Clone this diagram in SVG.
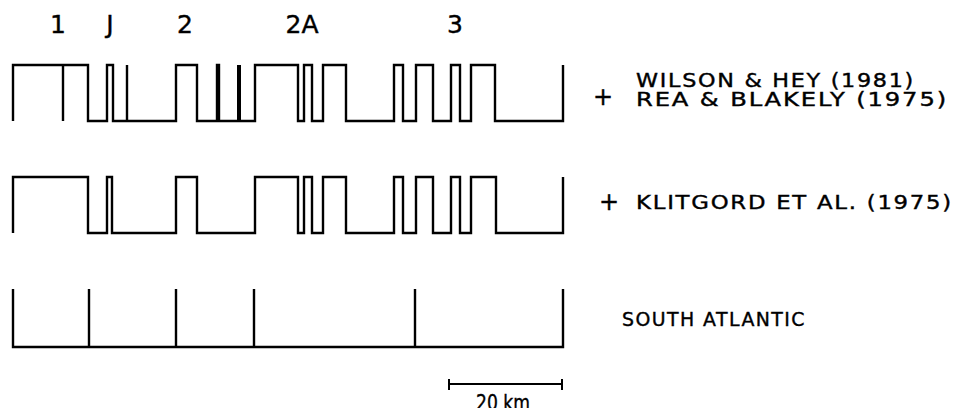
<svg xmlns="http://www.w3.org/2000/svg" width="956" height="408" viewBox="0 0 956 408">
<style>
.w{fill:none;stroke:#000;stroke-width:2.4;stroke-linejoin:miter;stroke-linecap:butt}
.t{font-family:"DejaVu Sans","Liberation Sans",sans-serif;fill:#000;stroke:#000;stroke-width:0.4}
.lab{font-size:25px;text-anchor:middle}
.src{font-size:19.5px;letter-spacing:1.5px}
.pl{font-size:24px;text-anchor:middle}
</style>
<rect width="956" height="408" fill="#fff"/>
<g id="labels">
<text class="t lab" x="58" y="33">1</text>
<text class="t lab" x="110" y="33">J</text>
<text class="t lab" x="185" y="33">2</text>
<text class="t lab" x="302" y="33">2A</text>
<text class="t lab" x="455" y="33">3</text>
</g>
<g id="row1">
<path class="w" d="M13,121 V65 H88 V121 H107 V65 H113 V121 H176 V65 H197 V121 H217 V65 H219 V121 H255 V65 H298 V121 H304 V65 H312 V121 H323 V65 H346 V121 H394 V65 H403 V121 H416 V65 H433 V121 H451 V65 H460 V121 H471 V65 H495 V121 H563 V65"/>
<path class="w" d="M63,65 V121 M127,65 V121"/>
<path class="w" d="M239,65 V121" style="stroke-width:4"/>
<text class="t pl" x="603" y="105">+</text>
<text class="t src" x="636" y="87" textLength="279" lengthAdjust="spacingAndGlyphs">WILSON &amp; HEY (1981)</text>
<text class="t src" x="636" y="106" textLength="312" lengthAdjust="spacingAndGlyphs">REA &amp; BLAKELY (1975)</text>
</g>
<g id="row2">
<path class="w" d="M13,233 V177 H88 V233 H107 V177 H112 V233 H176 V177 H197 V233 H255 V177 H298 V233 H304 V177 H312 V233 H323 V177 H346 V233 H394 V177 H403 V233 H416 V177 H433 V233 H451 V177 H460 V233 H471 V177 H496 V233 H563 V177"/>
<text class="t pl" x="609" y="210">+</text>
<text class="t src" x="636" y="209" textLength="317" lengthAdjust="spacingAndGlyphs">KLITGORD ET AL. (1975)</text>
</g>
<g id="row3">
<path class="w" d="M13,289 V347 H563 V289 M89,289 V347 M176,289 V347 M254,289 V347 M415,289 V347"/>
<text class="t src" x="622" y="326" textLength="184" lengthAdjust="spacingAndGlyphs">SOUTH ATLANTIC</text>
</g>
<g id="scale">
<path class="w" d="M449,384 H562 M449,379 V390 M562,379 V390" style="stroke-width:2"/>
<text class="t" x="476" y="410" font-size="22" textLength="54" lengthAdjust="spacingAndGlyphs">20 km</text>
</g>
</svg>
